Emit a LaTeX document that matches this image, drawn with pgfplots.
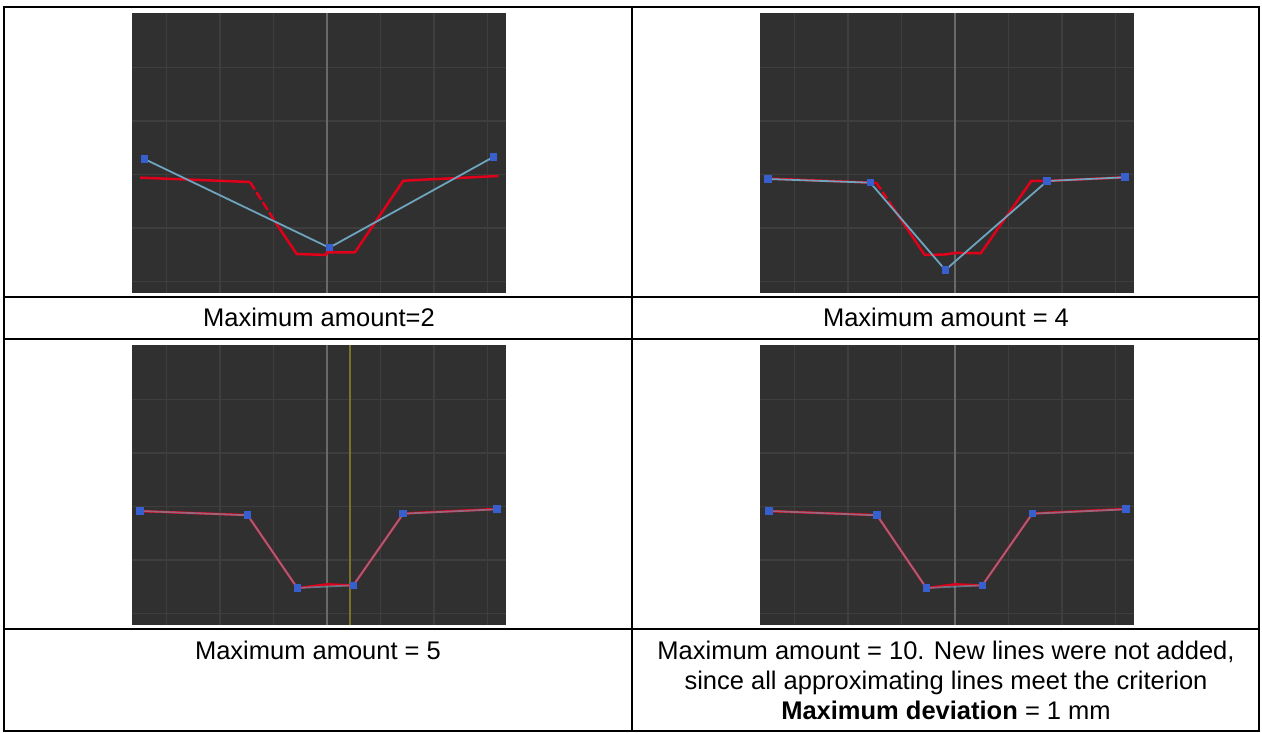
\documentclass[border=0pt]{standalone}
\usepackage{pgfplots}
\pgfplotsset{compat=1.18}
\usepackage{fontspec}
\setmainfont{Liberation Sans}
\definecolor{bgc}{RGB}{48,48,48}
\definecolor{gridc}{RGB}{62,62,62}
\definecolor{centc}{RGB}{105,105,105}
\definecolor{bluel}{RGB}{110,165,190}
\definecolor{bluem}{RGB}{55,95,205}
\definecolor{redl}{RGB}{225,0,25}
\definecolor{yel}{RGB}{120,115,40}
\pgfplotsset{panel/.style={
  scale only axis, width=374pt, height=280pt,
  xmin=-3.645, xmax=3.346, ymin=-2.219, ymax=3.015,
  axis line style={draw=none},
  axis background/.style={fill=bgc},
  xtick={-3,...,3}, ytick={-2,...,2}, xticklabels={}, yticklabels={},
  major tick length=0pt, tick style={draw=none},
  grid=major, grid style={gridc, line width=1.5pt},
  anchor=south west, clip=true,
},
centre/.style={centc, line width=2.5pt},
redline/.style={redl, line width=2.5pt, line join=round},
blueline/.style={bluel, line width=1.8pt, line join=round, mark=square*, mark size=3.3pt,
  mark options={fill=bluem, draw=bluem, line width=0pt, draw opacity=1, fill opacity=1}},
}
\begin{document}
\begin{tikzpicture}[x=1pt,y=1pt]
\path (0,0) rectangle (1262,733);
% Panel 1
\begin{axis}[panel, at={(132pt,440pt)}]
\addplot[centre] coordinates {(0,-2.219) (0,3.015)};
\addplot[redline] coordinates {(-3.495,-0.063) (-1.439,-0.144)};
\addplot[redline, dash pattern=on 9pt off 3pt] coordinates {(-1.439,-0.144) (-0.91,-0.98)};
\addplot[redline] coordinates {(-0.91,-0.98) (-0.566,-1.49) (-0.019,-1.508) (-0.006,-1.458) (0.523,-1.458) (1.426,-0.12) (3.202,-0.032)};
\addplot[blueline] coordinates {(-3.415,0.286) (0.043,-1.372) (3.109,0.323)};
\end{axis}
% Panel 2
\begin{axis}[panel, at={(760pt,440pt)}]
\addplot[centre] coordinates {(0,-2.219) (0,3.015)};
\addplot[redline] coordinates {(-3.495,-0.08) (-1.47,-0.16)};
\addplot[redline, dash pattern=on 8pt off 3pt] coordinates {(-1.47,-0.16) (-1.2,-0.56)};
\addplot[redline] coordinates {(-1.2,-0.56) (-0.566,-1.508) (-0.2,-1.50) (0.01,-1.47) (0.48,-1.477) (1.426,-0.125) (1.725,-0.125) (3.183,-0.056)};
\addplot[blueline] coordinates {(-3.495,-0.088) (-1.583,-0.157) (-0.181,-1.789) (1.725,-0.125) (3.183,-0.056)};
\end{axis}
% Panel 3
\begin{axis}[panel, at={(132pt,108pt)}]
\addplot[centre] coordinates {(0,-2.219) (0,3.015)};
\addplot[yel, line width=2pt] coordinates {(0.43,-2.219) (0.43,3.015)};
\addplot[redline] coordinates {(-3.495,-0.09) (-1.483,-0.165) (-0.555,-1.53) (0.006,-1.46) (0.492,-1.48) (1.426,-0.135) (3.183,-0.05)};
\addplot[blueline, draw opacity=0.6] coordinates {(-3.495,-0.088) (-1.483,-0.168) (-0.555,-1.527) (0.492,-1.477) (1.426,-0.138) (3.183,-0.056)};
\end{axis}
% Panel 4
\begin{axis}[panel, at={(760pt,108pt)}]
\addplot[centre] coordinates {(0,-2.219) (0,3.015)};
\addplot[redline] coordinates {(-3.477,-0.09) (-1.458,-0.165) (-0.536,-1.53) (0.006,-1.46) (0.511,-1.48) (1.445,-0.135) (3.196,-0.05)};
\addplot[blueline, draw opacity=0.6] coordinates {(-3.477,-0.088) (-1.458,-0.168) (-0.536,-1.527) (0.511,-1.477) (1.445,-0.138) (3.196,-0.056)};
\end{axis}
% table rules
\draw[black, line width=2pt] (4,2) rectangle (1259,726);
\draw[black, line width=2pt] (632,2) -- (632,726);
\draw[black, line width=2pt] (4,436) -- (1259,436);
\draw[black, line width=2pt] (4,394) -- (1259,394);
\draw[black, line width=2pt] (4,104) -- (1259,104);
% captions
\begingroup
\fontsize{25.5}{30}\selectfont
\node[anchor=base, inner sep=0pt] at (319,406) {Maximum amount=2};
\node[anchor=base, inner sep=0pt] at (946,406) {Maximum amount = 4};
\node[anchor=base, inner sep=0pt] at (318,73) {Maximum amount = 5};
\node[anchor=base, inner sep=0pt] at (946,73) {Maximum amount = 10. New lines were not added,};
\node[anchor=base, inner sep=0pt] at (946,43) {since all approximating lines meet the criterion};
\node[anchor=base, inner sep=0pt] at (946,13) {\textbf{Maximum deviation} = 1 mm};
\endgroup
\end{tikzpicture}
\end{document}
